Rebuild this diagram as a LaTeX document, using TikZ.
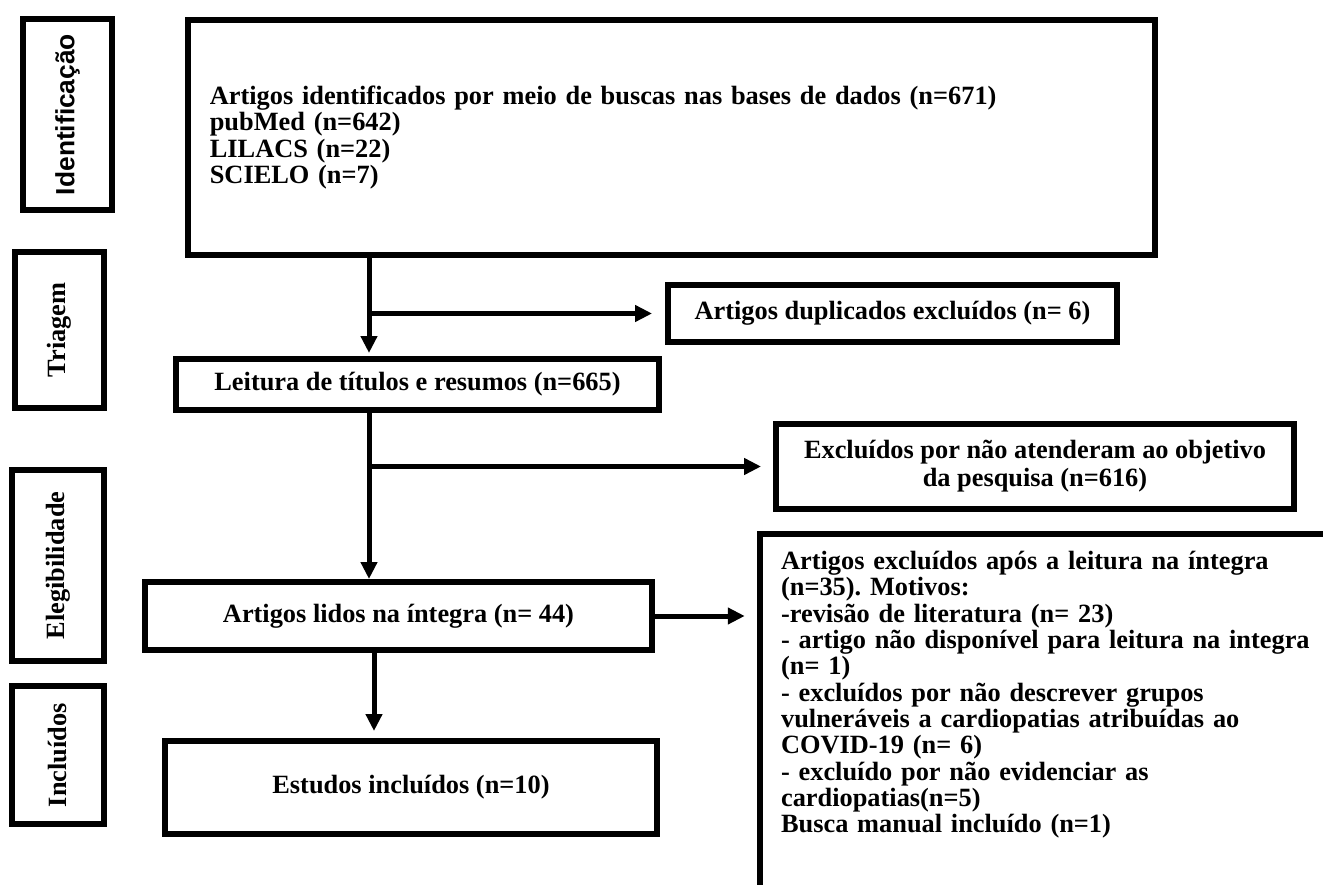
\documentclass[tikz,border=0pt]{standalone}
\usepackage{fontspec}
\setmainfont{Liberation Serif}
\newfontfamily\arialfont{Liberation Sans}
\usetikzlibrary{arrows.meta,positioning}
\frenchspacing

\begin{document}
\begin{tikzpicture}[line join=round, line cap=round,>={Triangle[length=0.34cm,width=0.32cm]},x=0.02cm,y=-0.02cm]
\tikzset{every node/.style={font=\fontsize{15}{15.4}\selectfont\bfseries}}
\tikzset{caixa/.style={draw,line width=0.11cm,line join=miter,inner sep=0pt,align=center}}
\tikzset{fase/.style={caixa,rotate=90}}
\tikzset{seta/.style={line width=0.1cm,line cap=butt,->}}
\clip (0,0) rectangle (1323,885);
% fases
\node[fase,font=\arialfont\fontsize{15}{15}\selectfont\bfseries,minimum width=3.83cm,minimum height=1.79cm] (ident) at (67.5,114.5) {Identificação};
\node[fase,minimum width=3.13cm,minimum height=1.79cm] (triag) at (59.5,330) {Triagem};
\node[fase,minimum width=3.83cm,minimum height=1.85cm] (eleg) at (58,565.5) {Elegibilidade};
\node[fase,minimum width=2.77cm,minimum height=1.85cm] (incl) at (58,755) {Incluídos};
% caixas
\node[caixa,align=left,text width=18.47cm,minimum width=19.35cm,minimum height=4.71cm,font=\fontsize{15}{15}\selectfont\bfseries] (busca) at (671.5,137.5)
{Artigos identificados por meio de buscas nas bases de dados (n=671)\\
pubMed (n=642)\\
LILACS (n=22)\\
SCIELO (n=7)};
\node[caixa,minimum width=9.67cm,minimum height=1.03cm] (leit) at (417.5,384.5) {Leitura de títulos e resumos (n=665)};
\node[caixa,minimum width=8.99cm,minimum height=1.15cm] (dup) at (892.5,313.5) {Artigos duplicados excluídos (n= 6)};
\node[caixa,minimum width=10.15cm,minimum height=1.37cm] (lidos) at (398.5,616) {Artigos lidos na íntegra (n= 44)};
\node[caixa,minimum width=10.37cm,minimum height=1.71cm,font=\fontsize{15}{16}\selectfont\bfseries] (exc) at (1035,466.5) {Excluídos por não atenderam ao objetivo\\ da pesquisa (n=616)};
\node[caixa,minimum width=9.85cm,minimum height=1.87cm] (estud) at (411,787.5) {Estudos incluídos (n=10)};
\node[anchor=north west,align=left,text width=11.5cm,inner xsep=0.42cm,inner ysep=0.34cm,font=\fontsize{15}{15}\selectfont\bfseries] (motiv) at (759.75,533.75)
{Artigos excluídos após a leitura na íntegra\\
(n=35). Motivos:\\
-revisão de literatura (n= 23)\\
- artigo não disponível para leitura na integra\\
(n= 1)\\
- excluídos por não descrever grupos\\
vulneráveis a cardiopatias atribuídas ao\\
COVID-19 (n= 6)\\
- excluído por não evidenciar as\\
cardiopatias(n=5)\\
Busca manual incluído (n=1)};
\draw[line width=0.11cm,line join=miter] ([yshift=-8cm]motiv.north west) -- (motiv.north west) -- ([xshift=13cm]motiv.north west);
% setas
\coordinate (eixo) at (369,0);
\coordinate (eixob) at (374,0);
\draw[seta,shorten >=0.06cm] (busca.south -| eixo) -- (leit.north -| eixo);
\draw[seta,shorten >=0.26cm] (dup.west -| eixo) -- (dup.west);
\draw[seta] (leit.south -| eixo) -- (lidos.north -| eixo);
\draw[seta,shorten >=0.24cm] (exc.west -| eixo) -- (exc.west);
\draw[seta,shorten >=0.3cm] (lidos.east) -- (lidos.east -| motiv.west);
\draw[seta,shorten >=0.14cm] (lidos.south -| eixob) -- (estud.north -| eixob);
\end{tikzpicture}
\end{document}
